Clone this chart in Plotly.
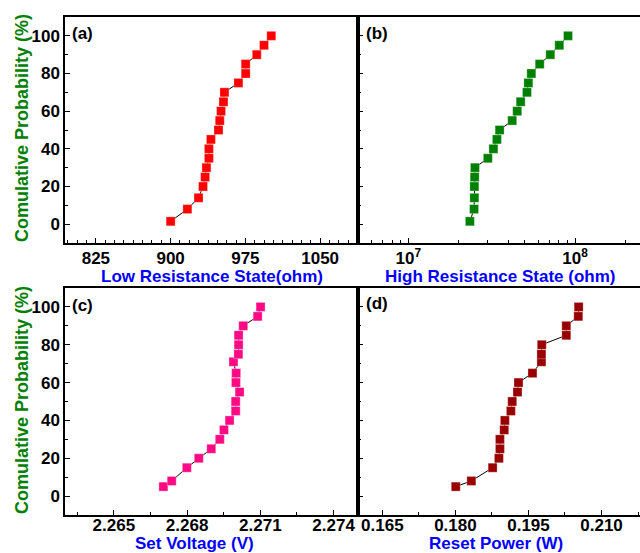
import plotly.graph_objects as go

# ---- data ----
prob_top = [1.5, 8, 14, 20, 25, 30, 35, 40, 45, 50, 55, 60, 65, 70, 75, 80, 85, 90, 95, 100]
prob_bot = [5, 8, 15, 20, 25, 30, 35, 40, 45, 50, 55, 60, 65, 71, 75, 80, 85, 90, 95, 100]

lrs_ohm = [900, 916.8, 928, 932.5, 934.6, 935.9, 938.4, 938.4, 940.4, 948,
           949.3, 950.6, 953, 954, 968, 975.3, 975.3, 986.4, 993.7, 1001]
hrs_ohm = [2.34e7, 2.48e7, 2.49e7, 2.49e7, 2.50e7, 2.51e7, 3.0e7, 3.24e7, 3.4e7, 3.53e7,
           4.2e7, 4.5e7, 4.72e7, 5.15e7, 5.25e7, 5.47e7, 6.14e7, 7.11e7, 8.05e7, 9.08e7]
set_v = [2.26703, 2.26737, 2.26799, 2.26848, 2.26899, 2.26934, 2.26951, 2.26974, 2.26999, 2.26999,
         2.27015, 2.27000, 2.27001, 2.26990, 2.27010, 2.27011, 2.27011, 2.27030, 2.27089, 2.27101]
reset_w = [0.18007, 0.18327, 0.18764, 0.18893, 0.18914, 0.18914, 0.19002, 0.19016, 0.19139, 0.19166,
           0.19275, 0.19295, 0.19582, 0.19766, 0.19766, 0.19773, 0.20277, 0.20277, 0.20523, 0.2053]

ytick_vals = [0, 20, 40, 60, 80, 100]
lrs_ticks = [825, 900, 975, 1050]
hrs_ticks = [1e7, 1e8]
hrs_ticktext = ["10<sup>7</sup>", "10<sup>8</sup>"]
hrs_minor = [k * 10 ** e for e in (6, 7, 8) for k in range(2, 10)]
setv_ticks = [2.265, 2.268, 2.271, 2.274]
reset_ticks = [0.165, 0.180, 0.195, 0.210]

W, H = 640, 553
FONT = "Arial, Liberation Sans, sans-serif"

def fx(px):
    return px / W

def fy(py):
    return 1 - py / H

colors = ["#FF0000", "#008000", "#FF0A84", "#990000"]

fig = go.Figure()
series = [(lrs_ohm, prob_top, "x", "y"), (hrs_ohm, prob_top, "x2", "y2"),
          (set_v, prob_bot, "x3", "y3"), (reset_w, prob_bot, "x4", "y4")]
for (xs, ys, xa, ya), c in zip(series, colors):
    fig.add_trace(go.Scatter(
        x=xs, y=ys, xaxis=xa, yaxis=ya, mode="lines+markers",
        line=dict(color="black", width=1),
        marker=dict(symbol="square", size=9, color=c, line=dict(width=0.5, color="rgba(255,255,255,0.6)")),
        showlegend=False, cliponaxis=False))

tickfont = dict(family=FONT, size=17, color="black", weight="bold")
axis_common = dict(showline=True, linecolor="black", linewidth=1.5, ticks="inside",
                   ticklen=5, tickcolor="black", tickwidth=1, showgrid=False, zeroline=False,
                   tickfont=tickfont, automargin=False)

xl, xm, xr = fx(65), fx(358), 1.0
top_dom = [fy(243), fy(17)]
bot_dom = [fy(515), fy(288)]

fig.update_layout(
    xaxis=dict(domain=[xl, xm], range=[794, 1088], tickvals=lrs_ticks, mirror=True, anchor="y",
               ticklabelstandoff=-1,
               minor=dict(ticks="inside", ticklen=3, dtick=9.375, tick0=825, tickcolor="black"),
               **axis_common),
    yaxis=dict(domain=top_dom, range=[-10, 110], tickvals=ytick_vals, mirror=True, anchor="x",
               minor=dict(ticks="inside", ticklen=3, dtick=10, tick0=0, tickcolor="black"),
               **axis_common),
    xaxis2=dict(domain=[xm, xr], type="log", range=[6.698, 8.39], tickvals=hrs_ticks,
                ticktext=hrs_ticktext, mirror=True, anchor="y2", ticklabelstandoff=-1,
                minor=dict(ticks="inside", ticklen=3, tickvals=hrs_minor, tickcolor="black"),
                **axis_common),
    yaxis2=dict(domain=top_dom, range=[-10, 110], tickvals=ytick_vals, showticklabels=False,
                mirror=False, anchor="x2",
                minor=dict(ticks="inside", ticklen=3, dtick=10, tick0=0, tickcolor="black"),
                **axis_common),
    xaxis3=dict(domain=[xl, xm], range=[2.263, 2.275], tickvals=setv_ticks, tickformat=".3f",
                mirror=True, anchor="y3", ticklabelstandoff=-6,
                minor=dict(ticks="inside", ticklen=3, dtick=0.0015, tick0=2.265, tickcolor="black"),
                **axis_common),
    yaxis3=dict(domain=bot_dom, range=[-10, 110], tickvals=ytick_vals, mirror=True, anchor="x3",
                minor=dict(ticks="inside", ticklen=3, dtick=10, tick0=0, tickcolor="black"),
                **axis_common),
    xaxis4=dict(domain=[xm, xr], range=[0.160, 0.2179], tickvals=reset_ticks, tickformat=".3f",
                mirror=True, anchor="y4", ticklabelstandoff=-6,
                minor=dict(ticks="inside", ticklen=3, dtick=0.0075, tick0=0.165, tickcolor="black"),
                **axis_common),
    yaxis4=dict(domain=bot_dom, range=[-10, 110], tickvals=ytick_vals, showticklabels=False,
                mirror=False, anchor="x4",
                minor=dict(ticks="inside", ticklen=3, dtick=10, tick0=0, tickcolor="black"),
                **axis_common),
    width=W, height=H, margin=dict(l=0, r=0, t=0, b=0),
    plot_bgcolor="white", paper_bgcolor="white",
)

ann = []
titlefont_g = dict(family=FONT, size=18, color="#008000", weight="bold")
titlefont_b = dict(family=FONT, size=17, color="#0000FF", weight="bold")
for cy in (128, 400):
    ann.append(dict(text="Comulative Probability (%)", x=fx(22), y=fy(cy), xref="paper", yref="paper",
                    showarrow=False, textangle=-90, font=titlefont_g, xanchor="center", yanchor="middle"))
for text, cx, cy in [("Low Resistance State(ohm)", 212, 276), ("High Resistance State (ohm)", 500, 276),
                     ("Set Voltage (V)", 194, 543), ("Reset Power (W)", 496, 543)]:
    ann.append(dict(text=text, x=fx(cx), y=fy(cy), xref="paper", yref="paper", showarrow=False,
                    font=titlefont_b, xanchor="center", yanchor="middle"))
for text, px, py in [("(a)", 70, 34), ("(b)", 364, 34), ("(c)", 70, 305), ("(d)", 364, 303)]:
    ann.append(dict(text=text, x=fx(px), y=fy(py), xref="paper", yref="paper", showarrow=False,
                    font=dict(family=FONT, size=17, color="black", weight="bold"),
                    xanchor="left", yanchor="middle"))
fig.update_layout(annotations=ann)

fig.write_html("out.html", config={"displayModeBar": False},
               post_script="document.body.style.margin='0';document.body.style.padding='0';document.body.style.overflow='hidden';")
